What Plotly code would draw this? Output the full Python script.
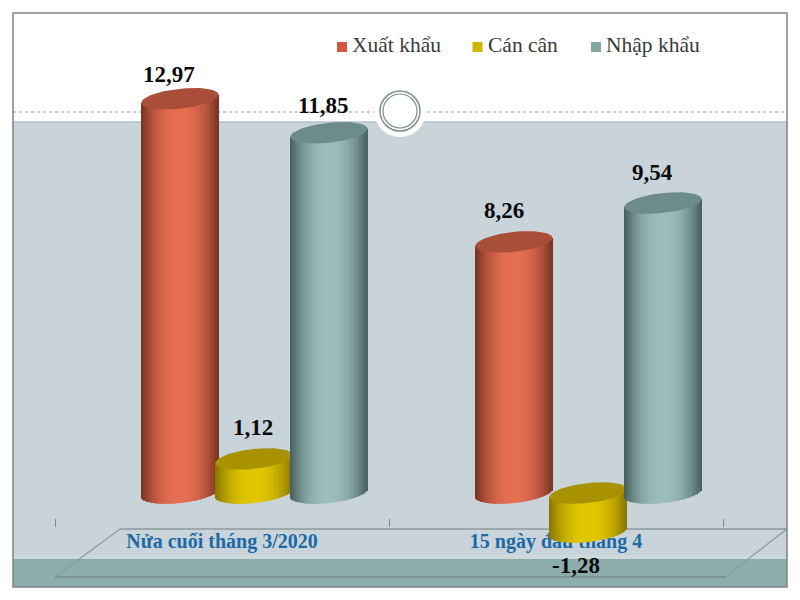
import numpy as np
import plotly.graph_objects as go

categories = ["Nửa cuối tháng 3/2020", "15 ngày đầu tháng 4"]
series_names = ["Xuất khẩu", "Cán cân", "Nhập khẩu"]
xuat_khau = [12.97, 8.26]
can_can = [1.12, -1.28]
nhap_khau = [11.85, 9.54]
series_values = [xuat_khau, can_can, nhap_khau]

W, H = 800, 600
PX_PER_UNIT = 30.4
BASE_PX = 493
GROUP_PX = 334
GROUP0_PX = 222
offsets = [-0.126, 0.096, 0.32]
BAR_W = 0.231
B_PX, TILT_PX = 10.0, 4.0
N = 60

palette = [
    dict(edge="#7a3324", mid="#e76f52", cap="#a94f39", key="#d2583f"),
    dict(edge="#8a7600", mid="#e2c800", cap="#a89200", key="#d0b400"),
    dict(edge="#47605f", mid="#9dbebd", cap="#6d8b8d", key="#84a5a5"),
]
label_shift = [[(-11, 24), (-10, 31)], [(-1, 31), (-12, -34)], [(-6, 27), (-10, 30)]]
legend_key_px = [342, 477.5, 596]
legend_text_px = [350, 486, 604]


def hex2rgb(h):
    return np.array([int(h[i:i + 2], 16) for i in (1, 3, 5)], float)


def shade(u, edge, mid):
    k = min(1.0, abs(u) ** 2.2)
    c = hex2rgb(mid) * (1 - k) + hex2rgb(edge) * k
    return "rgb(%d,%d,%d)" % tuple(c)


def px_x(px):
    return px / W


def px_y(py):
    return 1 - py / H


def rect(x0, y0, x1, y1, fill, line=None):
    return dict(type="rect", xref="paper", yref="paper", layer="below",
                x0=px_x(x0), x1=px_x(x1), y0=px_y(y0), y1=px_y(y1),
                fillcolor=fill, line=dict(width=0) if line is None else line)


def circle(cx, cy, r, fill, line):
    return dict(type="circle", xref="paper", yref="paper", layer="below",
                x0=px_x(cx - r), x1=px_x(cx + r), y0=px_y(cy + r), y1=px_y(cy - r),
                fillcolor=fill, line=line)


def seg(x0, y0, x1, y1, color, width, dash="solid"):
    return dict(type="line", xref="paper", yref="paper", layer="below",
                x0=px_x(x0), x1=px_x(x1), y0=px_y(y0), y1=px_y(y1),
                line=dict(color=color, width=width, dash=dash))


fig = go.Figure()
us = (np.arange(N) + 0.5) / N * 2 - 1
order = np.argsort(np.abs(us))
annotations = []

for s, name in enumerate(series_names):
    vals = series_values[s]
    xs, widths, bases, heights, colors = [], [], [], [], []
    capx, capy = [], []
    for g, v in enumerate(vals):
        cx = g + offsets[s]
        top, bot = max(v, 0), min(v, 0)
        for u in us[order]:
            low = bot + (TILT_PX * u - B_PX * np.sqrt(1 - u * u)) / PX_PER_UNIT
            high = top + TILT_PX * u / PX_PER_UNIT
            xs.append(cx + u * BAR_W / 2)
            widths.append(BAR_W / N * 1.25)
            bases.append(low)
            heights.append(high - low)
            colors.append(shade(u, palette[s]["edge"], palette[s]["mid"]))
        t = np.linspace(0, 2 * np.pi, 73)
        capx += list(cx + np.cos(t) * BAR_W / 2) + [None]
        capy += list(top + (TILT_PX * np.cos(t) + B_PX * np.sin(t)) / PX_PER_UNIT) + [None]
        dx, dy = label_shift[s][g]
        annotations.append(dict(
            x=cx, y=v, xref="x", yref="y", xshift=dx, yshift=dy, showarrow=False,
            text=f"{v:.2f}".replace(".", ","),
            font=dict(family="Liberation Serif", size=23, color="#0a0a0a", weight="bold"),
        ))
    fig.add_trace(go.Bar(
        x=xs, y=heights, base=bases, width=widths, name=name, zorder=s + 1,
        showlegend=False, marker=dict(color=colors, line=dict(width=0)), hoverinfo="skip",
    ))
    fig.add_trace(go.Scatter(
        x=capx, y=capy, mode="lines", fill="toself", fillcolor=palette[s]["cap"],
        line=dict(width=0, color=palette[s]["cap"]), showlegend=False,
        hoverinfo="skip", zorder=s + 1,
    ))
    annotations.append(dict(
        x=px_x(legend_text_px[s]), y=px_y(45.5), xref="paper", yref="paper",
        xanchor="left", yanchor="middle", showarrow=False, text=name,
        font=dict(family="Liberation Serif", size=21.5, color="#3a3a3a"),
    ))

shapes = [
    rect(13, 13, 787, 122, "#ffffff"),
    rect(13, 122, 787, 559, "#c8d3da"),
    rect(13, 555, 787, 559, "#ced9dc"),
    rect(13, 559, 787, 587, "#8dadad"),
    seg(13, 122, 787, 122, "#b4c0c6", 1.5),
    seg(13, 112, 375, 112, "#8f9a9a", 1, "dot"),
    seg(427, 112, 787, 112, "#8f9a9a", 1, "dot"),
    circle(400, 111, 26, "#ffffff", dict(width=0)),
    circle(400, 111, 20, "#ffffff", dict(color="#7f8f90", width=1.5)),
    circle(400, 111, 17, "#ffffff", dict(color="#7f8f90", width=1.2)),
    seg(120, 529, 787, 529, "#8d9a9e", 1.5),
    seg(120, 529, 55, 577, "#8d9a9e", 1.2),
    seg(787, 529, 725, 577, "#8d9a9e", 1.2),
    seg(55, 577, 725, 577, "#7f9595", 2),
    rect(13, 13, 787, 587, "rgba(0,0,0,0)", dict(color="#7b8585", width=1.5)),
]
for s in range(3):
    shapes.append(rect(legend_key_px[s] - 5, 42, legend_key_px[s] + 5, 52, palette[s]["key"]))

fig.update_layout(
    width=W, height=H, margin=dict(l=0, r=0, t=0, b=0, autoexpand=False),
    paper_bgcolor="#ffffff", plot_bgcolor="rgba(0,0,0,0)", showlegend=False,
    barmode="overlay", shapes=shapes, annotations=annotations,
    xaxis=dict(
        range=[-GROUP0_PX / GROUP_PX, (W - GROUP0_PX) / GROUP_PX],
        tickmode="array", tickvals=[0, 1], ticktext=categories, ticks="",
        tickfont=dict(family="Liberation Serif", size=20, color="#1d6aa5", weight="bold"),
        showgrid=False, zeroline=False, showline=False,
        anchor="free", position=1 - 527 / H,
        minor=dict(tickmode="array", tickvals=[-0.5, 0.5, 1.5], ticks="inside", ticklen=8,
                   tickcolor="#7d8a8f", tickwidth=1, showgrid=False),
    ),
    yaxis=dict(
        range=[(BASE_PX - H) / PX_PER_UNIT, BASE_PX / PX_PER_UNIT],
        visible=False, showgrid=False, zeroline=False,
    ),
)

fig.write_html("out.html", config=dict(displayModeBar=False),
               post_script="document.body.style.margin='0';document.documentElement.style.overflow='hidden';")
